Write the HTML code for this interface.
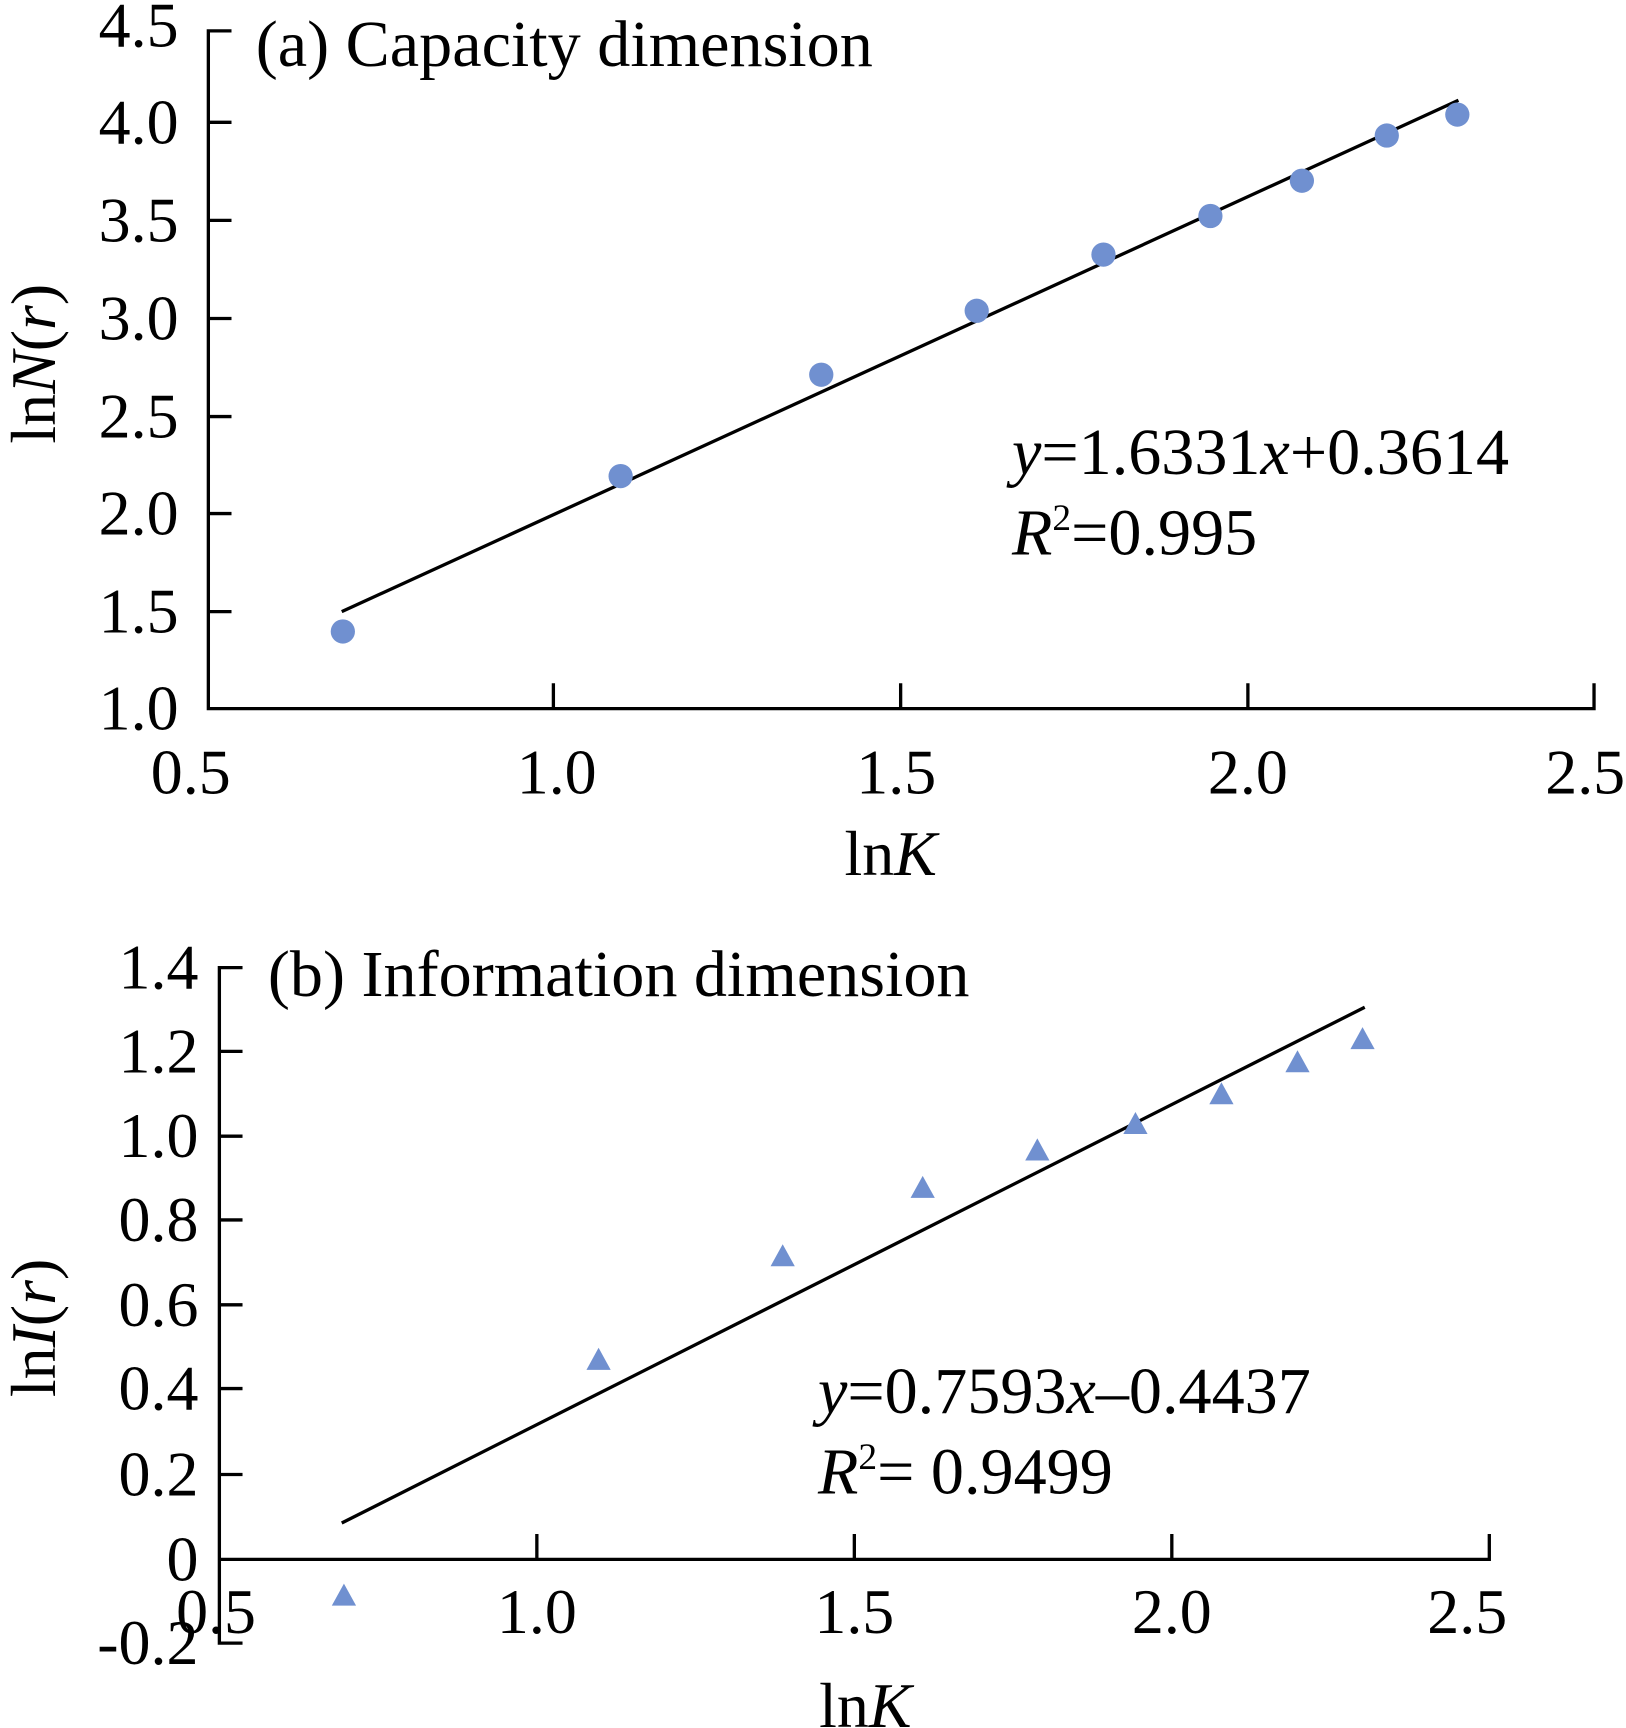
<!DOCTYPE html>
<html><head><meta charset="utf-8"><style>
html,body{margin:0;padding:0;background:#fff;}
svg{display:block;}
text{font-family:"Liberation Serif",serif;fill:#000;}
</style></head><body>
<svg width="1626" height="1728" viewBox="0 0 1475 1568" preserveAspectRatio="none" xmlns="http://www.w3.org/2000/svg">
<g stroke="#000" stroke-width="3" fill="none">
<path d="M210 28 H189 V643 H1446 V620"/>
<path d="M189 111 H210 M189 200 H210 M189 289 H210 M189 378 H210 M189 466 H210 M189 555 H210"/>
<path d="M502 643 V620 M817 643 V620 M1132 643 V620"/>
<path d="M310 555 L1323 91"/>
</g>
<g font-size="58" text-anchor="end">
<text x="162" y="42">4.5</text><text x="162" y="130">4.0</text><text x="162" y="219">3.5</text>
<text x="162" y="308">3.0</text><text x="162" y="397">2.5</text><text x="162" y="485">2.0</text>
<text x="162" y="574">1.5</text><text x="162" y="662">1.0</text>
</g>
<g font-size="58" text-anchor="middle">
<text x="173" y="720">0.5</text><text x="505" y="720">1.0</text><text x="813" y="720">1.5</text>
<text x="1132" y="720">2.0</text><text x="1438" y="720">2.5</text>
<text x="808" y="794">ln<tspan font-style="italic">K</tspan></text>
</g>
<text font-size="58" transform="translate(50 330) rotate(-90)" text-anchor="middle">ln<tspan font-style="italic">N</tspan>(<tspan font-style="italic">r</tspan>)</text>
<text x="232" y="60" font-size="60">(a) Capacity dimension</text>
<text x="918" y="430" font-size="60"><tspan font-style="italic">y</tspan>=1.6331<tspan font-style="italic">x</tspan>+0.3614</text>
<text x="918" y="503" font-size="60"><tspan font-style="italic">R</tspan><tspan font-size="34" dy="-22">2</tspan><tspan dy="22">=0.995</tspan></text>
<g fill="#7090d0">
<circle cx="311" cy="573" r="11"/><circle cx="563" cy="432" r="11"/><circle cx="745" cy="340" r="11"/>
<circle cx="886" cy="282" r="11"/><circle cx="1001" cy="231" r="11"/><circle cx="1098" cy="196" r="11"/>
<circle cx="1181" cy="164" r="11"/><circle cx="1258" cy="123" r="11"/><circle cx="1322" cy="104" r="11"/>
</g>

<g stroke="#000" stroke-width="3" fill="none">
<path d="M220 878 H199 V1491 H220"/>
<path d="M199 954 H220 M199 1031 H220 M199 1107 H220 M199 1184 H220 M199 1260 H220 M199 1338 H220"/>
<path d="M199 1415 H1351 V1392 M487 1415 V1392 M775 1415 V1392 M1063 1415 V1392"/>
<path d="M310 1382 L1238 914"/>
</g>
<g font-size="58" text-anchor="end">
<text x="180" y="897">1.4</text><text x="180" y="973">1.2</text><text x="180" y="1050">1.0</text>
<text x="180" y="1126">0.8</text><text x="180" y="1203">0.6</text><text x="180" y="1279">0.4</text>
<text x="180" y="1357">0.2</text><text x="180" y="1434">0</text><text x="180" y="1510">-0.2</text>
</g>
<g font-size="58" text-anchor="middle">
<text x="196" y="1482">0.5</text><text x="487" y="1482">1.0</text><text x="775" y="1482">1.5</text>
<text x="1063" y="1482">2.0</text><text x="1331" y="1482">2.5</text>
<text x="785" y="1567">ln<tspan font-style="italic">K</tspan></text>
</g>
<text font-size="58" transform="translate(50 1205) rotate(-90)" text-anchor="middle">ln<tspan font-style="italic">I</tspan>(<tspan font-style="italic">r</tspan>)</text>
<text x="243" y="904" font-size="60">(b) Information dimension</text>
<text x="742" y="1282" font-size="60"><tspan font-style="italic">y</tspan>=0.7593<tspan font-style="italic">x</tspan>–0.4437</text>
<text x="742" y="1355" font-size="60"><tspan font-style="italic">R</tspan><tspan font-size="34" dy="-22">2</tspan><tspan dy="22">= 0.9499</tspan></text>
<g fill="#7090d0">
<path d="M312 1437 l11 20 h-22z"/><path d="M543 1223 l11 20 h-22z"/><path d="M710 1129 l11 20 h-22z"/>
<path d="M837 1067 l11 20 h-22z"/><path d="M941 1033 l11 20 h-22z"/><path d="M1030 1009 l11 20 h-22z"/>
<path d="M1108 982 l11 20 h-22z"/><path d="M1177 953 l11 20 h-22z"/><path d="M1236 932 l11 20 h-22z"/>
</g>
</svg>
</body></html>
